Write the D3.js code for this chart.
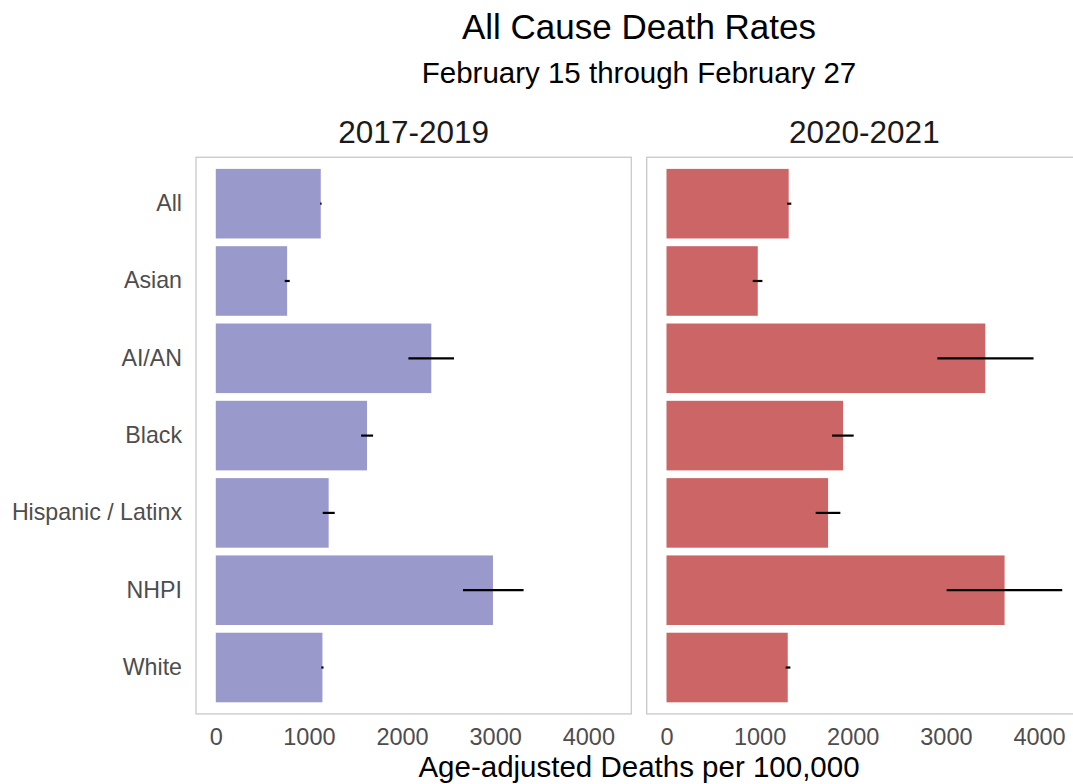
<!DOCTYPE html>
<html>
<head>
<meta charset="utf-8">
<script src="https://cdn.jsdelivr.net/npm/d3@7"></script>
<style>
  html, body { margin: 0; padding: 0; background: #fff; }
  svg { display: block; font-family: "Liberation Sans", Arial, sans-serif; }
</style>
</head>
<body>
<svg id="chart" width="1073" height="784"></svg>
<script>
// ---- data ----
const categories = ["All", "Asian", "AI/AN", "Black", "Hispanic / Latinx", "NHPI", "White"];
const periods = ["2017-2019", "2020-2021"];
const rates2017 = [1127, 766, 2314, 1624, 1212, 2976, 1145];
const lower2017 = [1121, 740, 2068, 1560, 1148, 2654, 1133];
const upper2017 = [1136, 794, 2558, 1689, 1277, 3305, 1157];
const rates2020 = [1312, 980, 3423, 1896, 1735, 3630, 1302];
const lower2020 = [1296, 926, 2908, 1778, 1602, 3008, 1279];
const upper2020 = [1340, 1030, 3941, 2010, 1867, 4249, 1330];
const xTicks = [0, 1000, 2000, 3000, 4000];
const periodColors = ["#9999CC", "#CC6666"];

const title = "All Cause Death Rates";
const subtitle = "February 15 through February 27";
const xTitle = "Age-adjusted Deaths per 100,000";

// ---- layout ----
const svg = d3.select("#chart");
const panelTop = 157.3, panelBottom = 713.9;
const panelW = 435.3;
const panelLefts = [196, 646.7];

const series = [
  { rates: rates2017, lower: lower2017, upper: upper2017 },
  { rates: rates2020, lower: lower2020, upper: upper2020 }
];

const maxVal = d3.max(series.flatMap(s => s.upper));
const pad = maxVal * 0.05;

const y = d3.scaleBand()
  .domain(categories)
  .range([panelTop, panelBottom])
  .paddingInner(0.1)
  .paddingOuter(0.15);

series.forEach((s, pi) => {
  const x0 = panelLefts[pi];
  const x = d3.scaleLinear().domain([0 - pad, maxVal + pad]).range([x0, x0 + panelW]);
  const g = svg.append("g");

  // panel border
  g.append("rect")
    .attr("x", x0).attr("y", panelTop)
    .attr("width", panelW).attr("height", panelBottom - panelTop)
    .attr("fill", "none").attr("stroke", "#cccccc").attr("stroke-width", 1.4);

  // bars
  g.selectAll("rect.bar").data(categories).join("rect")
    .attr("class", "bar")
    .attr("x", x(0))
    .attr("y", d => y(d))
    .attr("width", (d, i) => x(s.rates[i]) - x(0))
    .attr("height", y.bandwidth())
    .attr("fill", periodColors[pi]);

  // error bars
  g.selectAll("line.err").data(categories).join("line")
    .attr("class", "err")
    .attr("x1", (d, i) => x(s.lower[i]))
    .attr("x2", (d, i) => x(s.upper[i]))
    .attr("y1", d => y(d) + y.bandwidth() / 2)
    .attr("y2", d => y(d) + y.bandwidth() / 2)
    .attr("stroke", "#000").attr("stroke-width", 2.2);

  // x axis
  const ax = g.append("g")
    .attr("transform", `translate(0,${panelBottom})`)
    .call(d3.axisBottom(x).tickValues(xTicks).tickSize(0).tickPadding(14).tickFormat(d3.format("d")));
  ax.select(".domain").remove();
  ax.selectAll("text").attr("font-size", 23.5).attr("fill", "#4d4d4d")
    .attr("font-family", "Liberation Sans, Arial, sans-serif");

  // strip label
  g.append("text")
    .attr("x", x0 + panelW / 2).attr("y", 142.5)
    .attr("text-anchor", "middle")
    .attr("font-size", 31.5).attr("fill", "#1a1a1a")
    .text(periods[pi]);

  // y axis (left only)
  if (pi === 0) {
    const ay = g.append("g")
      .attr("transform", `translate(${x0},0)`)
      .call(d3.axisLeft(y).tickSize(0).tickPadding(14));
    ay.select(".domain").remove();
    ay.selectAll("text").attr("font-size", 23.2).attr("fill", "#4d4d4d")
      .attr("font-family", "Liberation Sans, Arial, sans-serif");
  }
});

const centerX = (panelLefts[0] + panelLefts[1] + panelW) / 2;

svg.append("text").attr("x", centerX).attr("y", 39)
  .attr("text-anchor", "middle").attr("font-size", 35).attr("fill", "#000").text(title);
svg.append("text").attr("x", centerX).attr("y", 83)
  .attr("text-anchor", "middle").attr("font-size", 29.5).attr("fill", "#000").text(subtitle);
svg.append("text").attr("x", centerX).attr("y", 777)
  .attr("text-anchor", "middle").attr("font-size", 29.5).attr("fill", "#000").text(xTitle);
</script>
</body>
</html>
